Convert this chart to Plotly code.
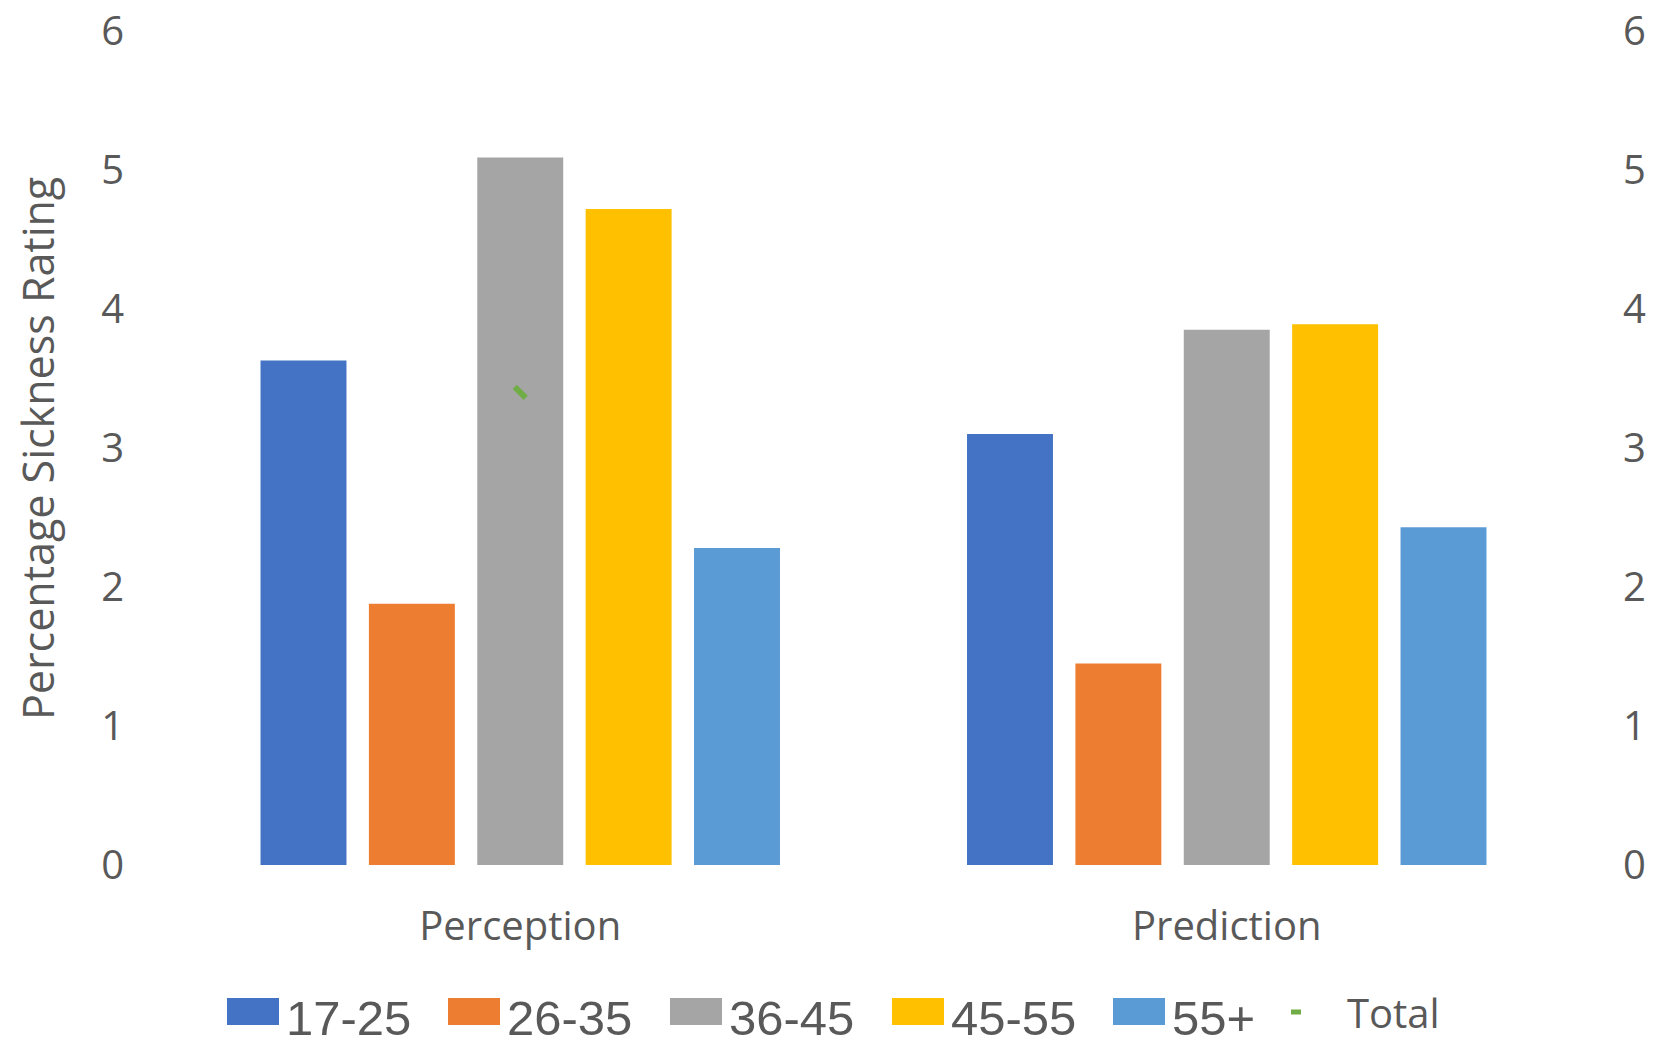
import plotly.graph_objects as go

categories = ["Perception", "Prediction"]
age_groups = ["17-25", "26-35", "36-45", "45-55", "55+"]
values_17_25 = [3.63, 3.10]
values_26_35 = [1.88, 1.45]
values_36_45 = [5.09, 3.85]
values_45_55 = [4.72, 3.89]
values_55_plus = [2.28, 2.43]
total_values = [3.40, None]
y_ticks = [0, 1, 2, 3, 4, 5, 6]

series = [values_17_25, values_26_35, values_36_45, values_45_55, values_55_plus]
colors = ["#4472C4", "#ED7D31", "#A5A5A5", "#FFC000", "#5B9BD5"]
total_color = "#70AD47"
text_color = "#595959"

W, H = 1657, 1047
L, R, T, B = 167, 77, 31, 182
pw, ph = W - L - R, H - T - B


def px(x):
    return (x - L) / pw


def py(y):
    return (H - B - y) / ph


fig = go.Figure()
for name, vals, col in zip(age_groups, series, colors):
    fig.add_trace(go.Bar(x=categories, y=vals, name=name, marker_color=col,
                         marker_line_width=0, showlegend=False))

fig.add_trace(go.Scatter(x=categories, y=total_values, name="Total", mode="markers",
                         yaxis="y2", showlegend=False,
                         marker=dict(symbol="line-nw", size=11,
                                     line=dict(color=total_color, width=6))))

axis_font = dict(family="Open Sans, Segoe UI, sans-serif", size=40, color=text_color)

shapes = []
annotations = []
# manual legend
sq_left = [227, 448, 670, 892, 1113]
for i, (name, col) in enumerate(zip(age_groups, colors)):
    x0 = sq_left[i]
    shapes.append(dict(type="rect", xref="paper", yref="paper",
                       x0=px(x0), x1=px(x0 + 52), y0=py(1025), y1=py(998),
                       fillcolor=col, line=dict(width=0)))
    annotations.append(dict(text=name, xref="paper", yref="paper",
                            x=px(x0 + 57), y=py(1047), xanchor="left", yanchor="bottom",
                            showarrow=False,
                            font=dict(family="Liberation Sans, Arial, sans-serif",
                                      size=49, color=text_color)))
shapes.append(dict(type="line", xref="paper", yref="paper",
                   x0=px(1291), x1=px(1301), y0=py(1012), y1=py(1012),
                   line=dict(color=total_color, width=5)))
annotations.append(dict(text="Total", xref="paper", yref="paper",
                        x=px(1345), y=py(1012), xanchor="left", yanchor="middle",
                        showarrow=False, font=axis_font))
annotations.append(dict(text="Percentage Sickness Rating", xref="paper", yref="paper",
                        x=px(37), y=py(449), xanchor="center", yanchor="middle",
                        textangle=-90, showarrow=False,
                        font=dict(family="Open Sans, Segoe UI, sans-serif", size=43,
                                  color=text_color)))

fig.update_layout(
    width=W, height=H,
    margin=dict(l=L, r=R, t=T, b=B, autoexpand=False),
    paper_bgcolor="white", plot_bgcolor="white",
    barmode="group", bargap=0.233, bargroupgap=0.207,
    showlegend=False,
    xaxis=dict(showline=False, showgrid=False, zeroline=False, ticks="",
               tickfont=axis_font, ticklabelstandoff=34, automargin=False),
    yaxis=dict(range=[0, 6], tickvals=y_ticks, showgrid=False, zeroline=False,
               showline=False, ticks="", tickfont=axis_font, ticklabelstandoff=42,
               ticklabeloverflow="allow", automargin=False),
    yaxis2=dict(range=[0, 6], tickvals=y_ticks, overlaying="y", side="right",
                showgrid=False, zeroline=False, showline=False, ticks="",
                tickfont=axis_font, ticklabelstandoff=42, ticklabeloverflow="allow",
                automargin=False),
    shapes=shapes,
    annotations=annotations,
)

fig.write_html("out.html")
